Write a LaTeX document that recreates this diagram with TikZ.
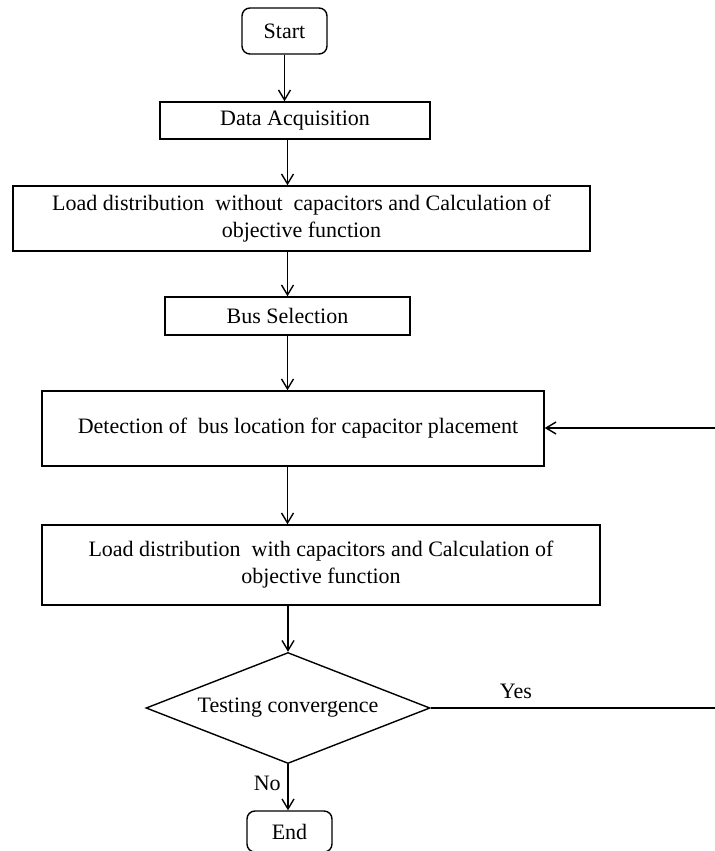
\documentclass[tikz,border=0pt]{standalone}
\usepackage{fontspec}
\setmainfont{Liberation Serif}
\usetikzlibrary{arrows.meta,shapes.geometric}
\begin{document}
\begin{tikzpicture}[x=0.5pt,y=-0.5pt,line width=0.7pt,
        font=\fontsize{11}{13.5}\selectfont,
        box/.style={draw,rectangle,inner sep=0pt,align=center},
        >={Straight Barb[length=5pt,width=6pt]}]
    \useasboundingbox (0,0) rectangle (715,851);
    \node[box,rounded corners=4pt,minimum width=42.5pt,minimum height=23pt] (start) at (284.5,31) {Start};
    \node[box,minimum width=135pt,minimum height=18.5pt] (data) at (295,120.5) {Data Acquisition};
    \node[box,minimum width=288.5pt,minimum height=32.5pt] (loadwo) at (301.5,218.5)
        {Load distribution\ \ without\ \ capacitors and Calculation of\\ objective function};
    \node[box,minimum width=122.5pt,minimum height=19pt] (bus) at (287.5,316) {Bus Selection};
    \node[box,minimum width=251pt,minimum height=37.5pt] (detect) at (293,428.5)
        {\hspace*{5pt}Detection of\ \ bus location for capacitor placement};
    \node[box,minimum width=279pt,minimum height=40pt] (loadw) at (321,565)
        {Load distribution\ \ with capacitors and Calculation of\\ objective function};
    \node[draw,diamond,inner sep=0pt,aspect=2.56,minimum width=142pt,minimum height=55.5pt] (test) at (288,708)
        {Testing convergence};
    \node[box,rounded corners=4pt,minimum width=42.5pt,minimum height=20.5pt] (end) at (289.5,831.5) {End};
    \coordinate (yesend) at (715,708);
    \coordinate (backin) at (715,428);
    % arrows
    \draw[->] (start.south) -- (start.south |- data.north);
    \draw[->] (data.south -| bus.north) -- (bus.north |- loadwo.north);
    \draw[->] (loadwo.south -| bus.north) -- (bus.north);
    \draw[->] (bus.south) -- (bus.south |- detect.north);
    \draw[->] (detect.south -| bus.south) -- (bus.south |- loadw.north);
    \draw[->] (loadw.south -| test.north) -- (test.north);
    \draw[->] (test.south) -- (test.south |- end.north) node[pos=0.42,left] {No};
    \draw (test.east) -- (yesend) node[pos=0.3,above,yshift=1pt] {Yes};
    \draw[->] (backin) -- (detect.east |- backin);
\end{tikzpicture}
\end{document}
